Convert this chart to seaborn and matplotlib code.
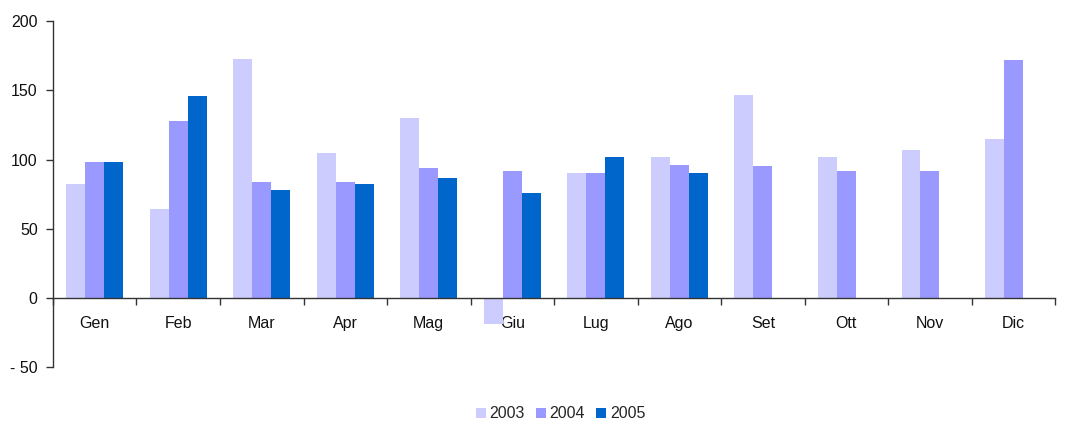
import numpy as np
import pandas as pd
import matplotlib
matplotlib.use("Agg")
import matplotlib.pyplot as plt
import seaborn as sns
from matplotlib.ticker import FixedLocator

months = ["Gen", "Feb", "Mar", "Apr", "Mag", "Giu", "Lug", "Ago", "Set", "Ott", "Nov", "Dic"]
years = ["2003", "2004", "2005"]
v2003 = [82, 64, 173, 105, 130, -19, 90, 102, 147, 102, 107, 115]
v2004 = [98, 128, 84, 84, 94, 92, 90, 96, 95, 92, 92, 172]
v2005 = [98, 146, 78, 82, 87, 76, 102, 90, np.nan, np.nan, np.nan, np.nan]
colors = ["#CCCCFF", "#9999FF", "#0066CC"]

rows = []
for y, vals in zip(years, [v2003, v2004, v2005]):
    for m, v in zip(months, vals):
        rows.append({"Mese": m, "Anno": y, "Valore": v})
df = pd.DataFrame(rows)

sns.set_theme(style="white")
plt.rcParams["font.family"] = ["Liberation Sans", "DejaVu Sans"]

fig = plt.figure(figsize=(10.68, 4.23), dpi=100)
ax = fig.add_axes([0.0496, 0.132, 0.9384, 0.818])

sns.barplot(data=df, x="Mese", y="Valore", hue="Anno", order=months, hue_order=years,
            palette=colors, width=0.68, saturation=1, errorbar=None, ax=ax, legend=True,
            linewidth=0, edgecolor="none")

ax.set_ylim(-50, 200)
ax.set_xlim(-0.5, len(months) - 0.5)
ax.set_yticks([-50, 0, 50, 100, 150, 200])
ax.set_yticklabels(["- 50", "0", "50", "100", "150", "200"])
ax.set_xlabel("")
ax.set_ylabel("")

for s in ["top", "right"]:
    ax.spines[s].set_visible(False)
ax.spines["bottom"].set_position(("data", 0))
for s in ["left", "bottom"]:
    ax.spines[s].set_color("#333333")
    ax.spines[s].set_linewidth(1.0)

ax.xaxis.set_major_locator(FixedLocator(np.arange(-0.5, len(months), 1.0)))
ax.xaxis.set_minor_locator(FixedLocator(np.arange(len(months))))
ax.set_xticklabels([], minor=False)
ax.set_xticklabels(months, minor=True)
ax.tick_params(axis="x", which="major", direction="out", length=5, width=1, color="#333333", bottom=True)
ax.tick_params(axis="x", which="minor", length=0, pad=13, labelsize=11.5, labelcolor="#111111", bottom=True)
ax.tick_params(axis="y", direction="out", length=5, width=1, color="#333333", left=True,
               labelsize=11.5, labelcolor="#111111", pad=6)
ax.grid(False)

handles, labels = ax.get_legend_handles_labels()
ax.get_legend().remove()
fig.legend(handles, labels, loc="lower center", bbox_to_anchor=(0.525, -0.03), ncol=3, frameon=False,
           fontsize=11.5, handlelength=0.6, handleheight=0.6, handletextpad=0.25, columnspacing=0.7)

fig.savefig("out.png", dpi=100)
